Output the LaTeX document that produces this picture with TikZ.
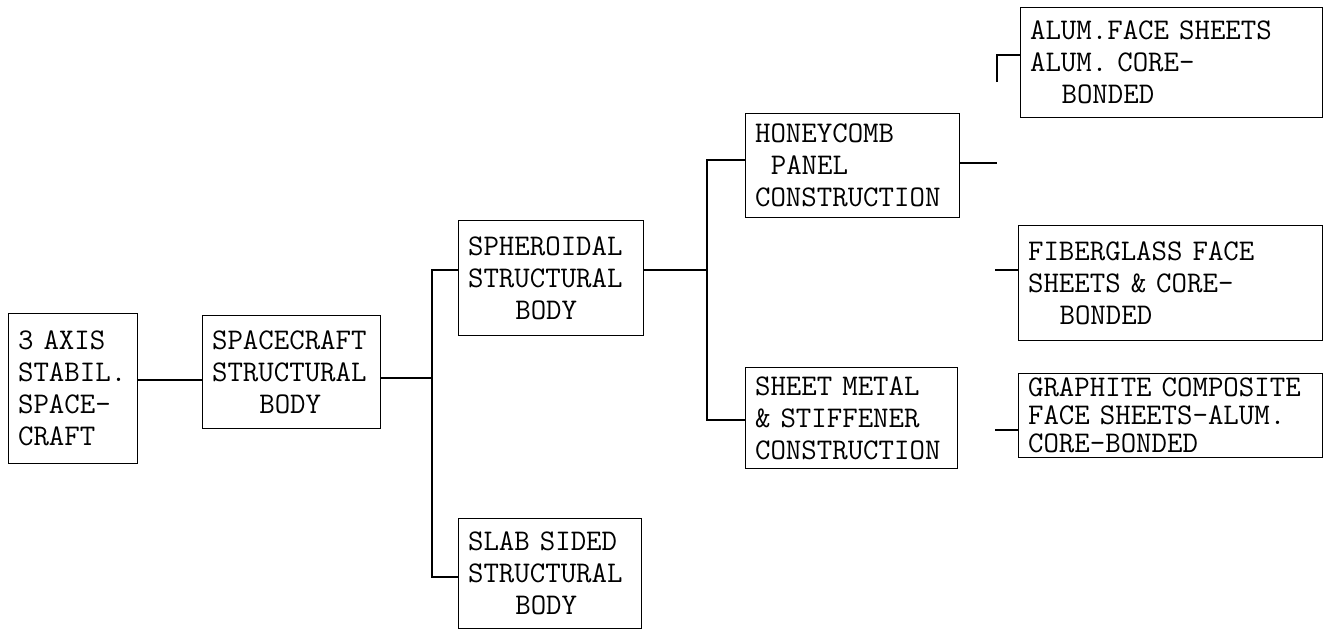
\documentclass[tikz,border=0pt]{standalone}
\newcommand{\pad}[1]{\hspace*{#1\dimexpr.525em\relax}}
\begin{document}
\begin{tikzpicture}[x=0.75pt,y=-0.75pt,line width=1.1pt,
  box/.style={draw,anchor=north west,align=left,inner xsep=7pt,inner ysep=0pt,
    font=\ttfamily\fontsize{22.5}{24}\selectfont}]
  \useasboundingbox (0,0) rectangle (1328,636);
  % boxes
  \node[box,text width=82.75pt,minimum height=112.5pt] (axis) at (8,313) {3 AXIS\\STABIL.\\SPACE-\\CRAFT};
  \node[box,text width=119.5pt,minimum height=84.75pt] (craft) at (202,315) {SPACECRAFT\\STRUCTURAL\\\pad{3}BODY};
  \node[box,text width=124.75pt,minimum height=86.25pt] (spher) at (458,220) {SPHEROIDAL\\STRUCTURAL\\\pad{3}BODY};
  \node[box,text width=123.25pt,minimum height=82.5pt] (slab) at (458,518) {SLAB SIDED\\STRUCTURAL\\\pad{3}BODY};
  \node[box,text width=146.5pt,minimum height=78pt] (honey) at (745,113) {HONEYCOMB\\\pad{1}PANEL\\CONSTRUCTION};
  \node[box,text width=145pt,minimum height=75.75pt] (sheet) at (745,367) {SHEET METAL\\\& STIFFENER\\CONSTRUCTION};
  \node[box,text width=212.5pt,minimum height=82.5pt] (alum) at (1020,7) {ALUM.FACE SHEETS\\ALUM. CORE-\\\pad{2}BONDED};
  \node[box,text width=214pt,minimum height=86.25pt] (fiber) at (1018,225) {FIBERGLASS FACE\\SHEETS \& CORE-\\\pad{2}BONDED};
  \node[box,text width=214pt,minimum height=63pt,font=\ttfamily\fontsize{22.5}{21}\selectfont] (graph) at (1018,373) {GRAPHITE COMPOSITE\\FACE SHEETS-ALUM.\\CORE-BONDED};
  % joints
  \coordinate (x1) at (150,380);
  \coordinate (j1) at (432,378);
  \coordinate (b1t) at (432,270);
  \coordinate (b1b) at (432,577);
  \coordinate (j2) at (707,270);
  \coordinate (b2t) at (707,160);
  \coordinate (b2b) at (707,420);
  \coordinate (h1) at (997,163);
  \coordinate (a1) at (997,82);
  \coordinate (a2) at (997,55);
  \coordinate (f1) at (995,270);
  \coordinate (g1) at (995,430);
  % connectors
  \draw (axis.east |- x1) -- (x1 -| craft.west);
  \draw (craft.east |- j1) -- (j1);
  \draw (b1t -| spher.west) -- (b1t) -- (b1b) -- (b1b -| slab.west);
  \draw (spher.east |- j2) -- (j2);
  \draw (b2t -| honey.west) -- (b2t) -- (b2b) -- (b2b -| sheet.west);
  \draw (honey.east |- h1) -- (h1);
  \draw (a1) -- (a2) -- (a2 -| alum.west);
  \draw (f1) -- (f1 -| fiber.west);
  \draw (g1) -- (g1 -| graph.west);
\end{tikzpicture}
\end{document}
